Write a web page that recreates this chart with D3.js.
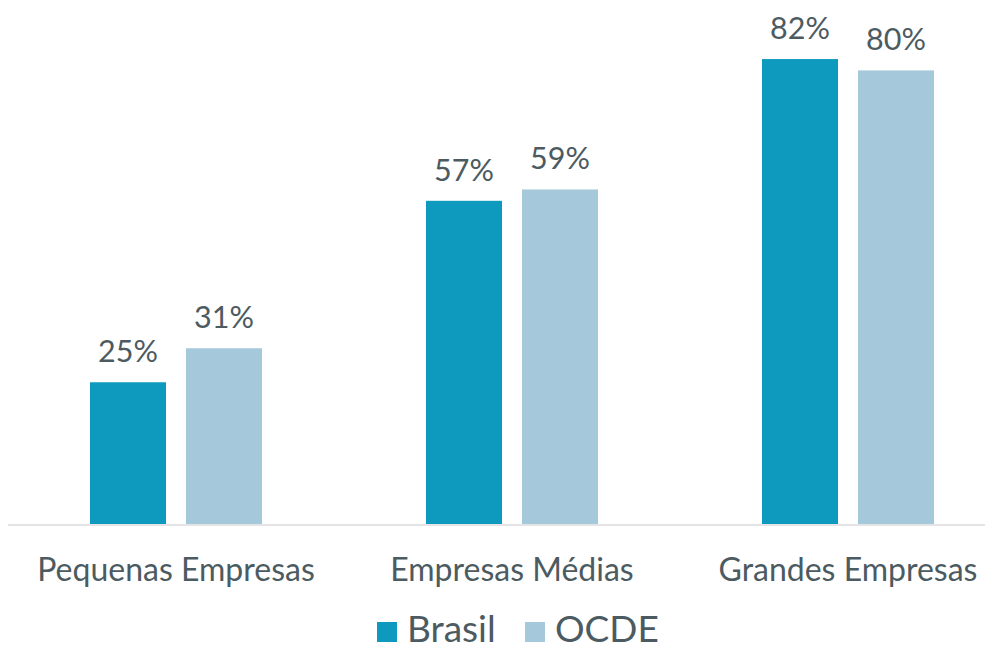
<!DOCTYPE html>
<html>
<head>
<meta charset="utf-8">
<script src="https://cdn.jsdelivr.net/npm/d3@7"></script>
<style>
  html, body { margin: 0; padding: 0; background: #ffffff; }
  svg { display: block; font-family: Lato, "Open Sans", sans-serif; }
</style>
</head>
<body>
<svg id="chart" width="985" height="646"></svg>
<script>
// Categories and series values (percent)
const categories = ["Pequenas Empresas", "Empresas Médias", "Grandes Empresas"];
const seriesNames = ["Brasil", "OCDE"];
const brasilValues = [25, 57, 82];
const ocdeValues = [31, 59, 80];
const seriesColors = ["#0e9abe", "#a5c8da"];

const rows = categories.map((c, i) => ({ category: c, values: [brasilValues[i], ocdeValues[i]] }));

const svg = d3.select("#chart");
const width = 985;
const textColor = "#4c5b61";

const x0 = d3.scaleBand().domain(categories).range([8, 1016]).paddingInner(0).paddingOuter(0);
const barW = 76, barGap = 20;
const x1 = d3.scaleOrdinal().domain(seriesNames).range([-(barW + barGap / 2), barGap / 2]);
const y = d3.scaleLinear().domain([0, 100]).range([524, -43]);

// Bars
const groups = svg.append("g").selectAll("g").data(rows).join("g")
  .attr("transform", d => `translate(${x0(d.category) + x0.bandwidth() / 2},0)`);

groups.selectAll("rect").data(d => d.values.map((v, i) => ({ v, s: seriesNames[i], i })))
  .join("rect")
  .attr("x", d => x1(d.s))
  .attr("y", d => y(d.v))
  .attr("width", barW)
  .attr("height", d => y(0) - y(d.v))
  .attr("fill", d => seriesColors[d.i]);

// Value labels
groups.selectAll("text.val").data(d => d.values.map((v, i) => ({ v, s: seriesNames[i], i })))
  .join("text")
  .attr("class", "val")
  .attr("x", d => x1(d.s) + barW / 2)
  .attr("y", d => y(d.v) - 20)
  .attr("text-anchor", "middle")
  .attr("fill", textColor)
  .style("font-size", "30.5px")
  .text(d => d.v + "%");

// Baseline axis
const xAxis = d3.axisBottom(x0).tickSize(0).tickPadding(0);
const axisG = svg.append("g").attr("transform", `translate(0,${y(0)})`).call(xAxis);
axisG.select(".domain").remove();
axisG.selectAll("text")
  .attr("dy", 0)
  .attr("y", 57)
  .attr("fill", textColor)
  .style("font-size", "32px")
  .style("font-family", "Lato, sans-serif");
svg.append("line")
  .attr("x1", 8).attr("x2", width)
  .attr("y1", y(0) + 1).attr("y2", y(0) + 1)
  .attr("stroke", "#e4e4e4").attr("stroke-width", 2);

// Legend
const legendItems = [{ name: "Brasil", x: 377 }, { name: "OCDE", x: 525 }];
const legend = svg.append("g").selectAll("g").data(legendItems).join("g")
  .attr("transform", d => `translate(${d.x},0)`);
legend.append("rect")
  .attr("x", 0).attr("y", 622).attr("width", 20).attr("height", 20)
  .attr("fill", (d, i) => seriesColors[i]);
legend.append("text")
  .attr("x", 30).attr("y", 642)
  .attr("fill", textColor)
  .style("font-size", "37px")
  .text(d => d.name);
</script>
</body>
</html>
